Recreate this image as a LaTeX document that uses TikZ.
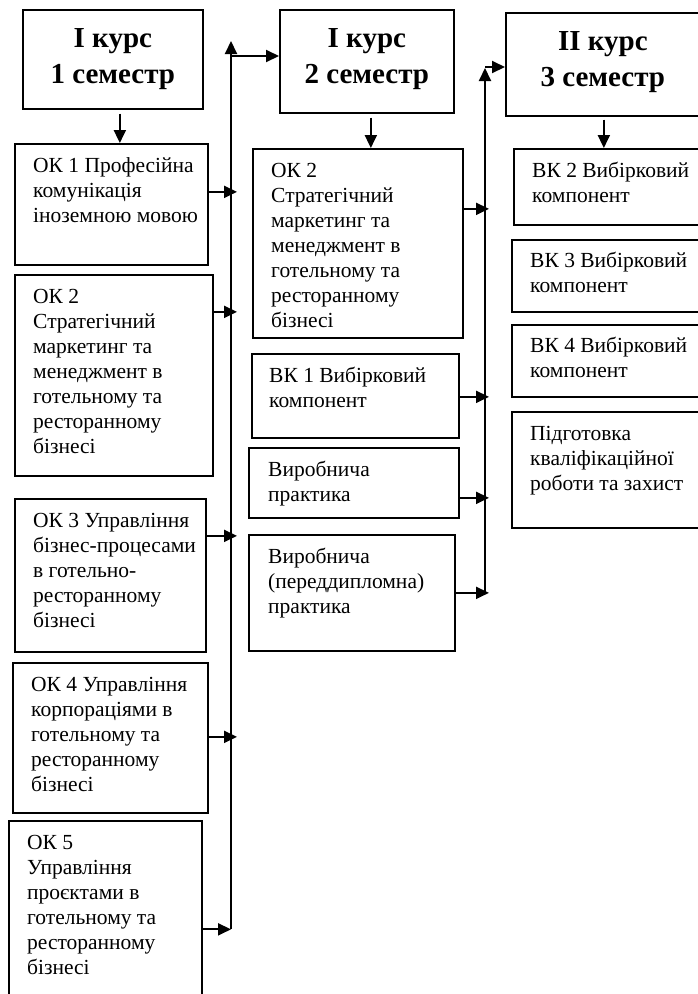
\documentclass[tikz,border=0pt]{standalone}
\usepackage{fontspec}
\setmainfont{Liberation Serif}
\usetikzlibrary{arrows.meta}
\newcommand{\celltext}[1]{\begin{tabular}[t]{@{}l@{}}#1\end{tabular}}
\newcommand{\headtext}[1]{\begin{tabular}[t]{@{}c@{}}#1\end{tabular}}
\begin{document}
\begin{tikzpicture}[x=1pt,y=-1pt,
  box/.style={draw, line width=1.7pt, inner sep=0pt, anchor=north west},
  body/.style={anchor=base west, inner sep=0pt, font=\fontsize{21.5}{25}\selectfont},
  head/.style={anchor=base, inner sep=0pt, font=\fontsize{29}{36}\selectfont\bfseries},
  arr/.style={line width=2pt, -{Triangle[length=13pt,width=12pt]}}]
\useasboundingbox (0,0) rectangle (698,994);
% headers
\node[box, minimum width=180pt, minimum height=99pt] (h1) at (22,9) {};
\node[box, minimum width=174pt, minimum height=103pt] (h2) at (279,9) {};
\node[box, minimum width=200pt, minimum height=103pt] (h3) at (505,12) {};
\node[head] (h1t) at ([yshift=-38pt]h1.north) {\headtext{I курс\\1 семестр}};
\node[head] (h2t) at ([yshift=-38pt]h2.north) {\headtext{I курс\\2 семестр}};
\node[head] (h3t) at ([yshift=-38pt,xshift=-3pt]h3.north) {\headtext{II курс\\3 семестр}};
% column 1
\node[box, minimum width=193pt, minimum height=121pt] (ok1) at (14,143) {};
\node[box, minimum width=198pt, minimum height=201pt] (ok2a) at (14,274) {};
\node[box, minimum width=191pt, minimum height=153pt] (ok3) at (14,498) {};
\node[box, minimum width=195pt, minimum height=150pt] (ok4) at (12,662) {};
\node[box, minimum width=193pt, minimum height=185pt] (ok5) at (8,820) {};
\node[body] (ok1t) at ([shift={(19pt,-29pt)}]ok1.north west) {\celltext{ОК 1 Професійна\\комунікація\\іноземною мовою}};
\node[body] (ok2at) at ([shift={(19pt,-29pt)}]ok2a.north west) {\celltext{ОК 2\\Стратегічний\\маркетинг та\\менеджмент в\\готельному та\\ресторанному\\бізнесі}};
\node[body] (ok3t) at ([shift={(19pt,-29pt)}]ok3.north west) {\celltext{ОК 3 Управління\\бізнес-процесами\\в готельно-\\ресторанному\\бізнесі}};
\node[body] (ok4t) at ([shift={(19pt,-29pt)}]ok4.north west) {\celltext{ОК 4 Управління\\корпораціями в\\готельному та\\ресторанному\\бізнесі}};
\node[body] (ok5t) at ([shift={(19pt,-29pt)}]ok5.north west) {\celltext{ОК 5\\Управління\\проєктами в\\готельному та\\ресторанному\\бізнесі}};
% column 2
\node[box, minimum width=210pt, minimum height=189pt] (ok2m) at (252,148) {};
\node[box, minimum width=207pt, minimum height=84pt] (bk1) at (251,353) {};
\node[box, minimum width=210pt, minimum height=70pt] (vp) at (248,447) {};
\node[box, minimum width=206pt, minimum height=116pt] (vpd) at (248,534) {};
\node[body] (ok2mt) at ([shift={(19pt,-29pt)}]ok2m.north west) {\celltext{ОК 2\\Стратегічний\\маркетинг та\\менеджмент в\\готельному та\\ресторанному\\бізнесі}};
\node[body] (bk1t) at ([shift={(18pt,-29pt)}]bk1.north west) {\celltext{ВК 1 Вибірковий\\компонент}};
\node[body] (vpt) at ([shift={(20pt,-29pt)}]vp.north west) {\celltext{Виробнича\\практика}};
\node[body] (vpdt) at ([shift={(20pt,-29pt)}]vpd.north west) {\celltext{Виробнича\\(переддипломна)\\практика}};
% column 3
\node[box, minimum width=192pt, minimum height=76pt] (bk2) at (513,148) {};
\node[box, minimum width=194pt, minimum height=72pt] (bk3) at (511,239) {};
\node[box, minimum width=194pt, minimum height=72pt] (bk4) at (511,324) {};
\node[box, minimum width=194pt, minimum height=116pt] (pidg) at (511,411) {};
\node[body] (bk2t) at ([shift={(19pt,-29pt)}]bk2.north west) {\celltext{ВК 2 Вибірковий\\компонент}};
\node[body] (bk3t) at ([shift={(19pt,-28pt)}]bk3.north west) {\celltext{ВК 3 Вибірковий\\компонент}};
\node[body] (bk4t) at ([shift={(19pt,-28pt)}]bk4.north west) {\celltext{ВК 4 Вибірковий\\компонент}};
\node[body] (pidgt) at ([shift={(19pt,-29pt)}]pidg.north west) {\celltext{Підготовка\\кваліфікаційної\\роботи та захист}};
% down arrows
\path ([xshift=7pt,yshift=-4pt]h1.south) coordinate (d1);
\path ([xshift=4pt,yshift=-4pt]h2.south) coordinate (d2);
\path ([xshift=-2pt,yshift=-3pt]h3.south) coordinate (d3);
\draw[arr] (d1) -- (d1 |- ok1.north);
\draw[arr] (d2) -- (d2 |- ok2m.north);
\draw[arr] (d3) -- (d3 |- bk2.north);
% bus 1
\coordinate (b1top) at (231,41);
\coordinate (b1h) at (231,56);
\coordinate (b1tip) at (237,0);
\path ([yshift=12.5pt]ok1.east) coordinate (a1);
\path ([yshift=63.5pt]ok2a.east) coordinate (a2);
\path ([yshift=39.5pt]ok3.east) coordinate (a3);
\path ([yshift=1pt]ok4.east) coordinate (a4);
\path ([yshift=-16pt]ok5.east) coordinate (a5);
\path (b1top |- a5) coordinate (b1bot);
\draw[arr] (b1bot) -- (b1top);
\draw[arr] (b1h) -- (b1h -| h2.west);
\draw[arr] (a1) -- (b1tip |- a1);
\draw[arr] (a2) -- (b1tip |- a2);
\draw[arr] (a3) -- (b1tip |- a3);
\draw[arr] (a4) -- (b1tip |- a4);
\draw[arr] (a5) -- (b1bot);
% bus 2
\coordinate (b2top) at (485,68);
\coordinate (b2h) at (485,67);
\coordinate (b2tip) at (489,0);
\path ([yshift=34.5pt]ok2m.east) coordinate (c1);
\path ([yshift=-1pt]bk1.east) coordinate (c2);
\path ([yshift=-15pt]vp.east) coordinate (c3);
\path (vpd.east) coordinate (c4);
\path (b2top |- c4) coordinate (b2bot);
\draw[arr] (b2bot) -- (b2top);
\draw[arr] (b2h) -- (b2h -| h3.west);
\draw[arr] (c1) -- (b2tip |- c1);
\draw[arr] (c2) -- (b2tip |- c2);
\draw[arr] (c3) -- (b2tip |- c3);
\draw[arr] (c4) -- (b2tip |- c4);
\end{tikzpicture}
\end{document}
